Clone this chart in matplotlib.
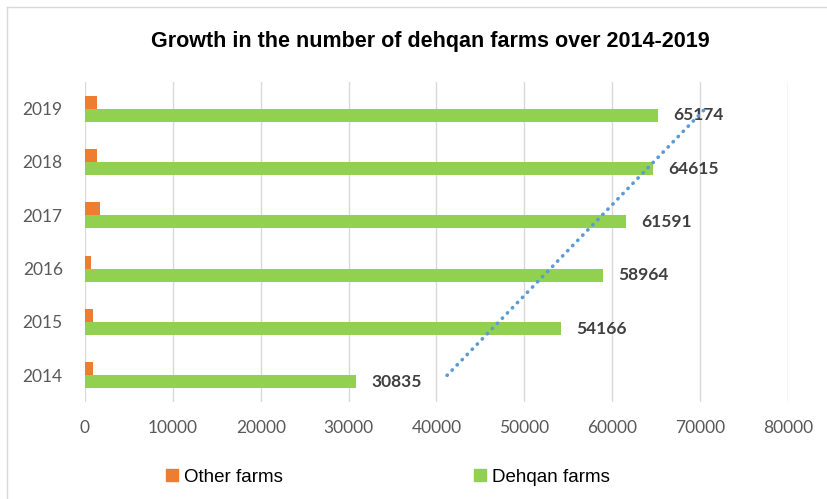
import numpy as np
import matplotlib
matplotlib.use("Agg")
import matplotlib.pyplot as plt
from matplotlib.patches import Patch
from matplotlib.lines import Line2D

years = ["2014", "2015", "2016", "2017", "2018", "2019"]
other_farms = [900, 900, 700, 1700, 1400, 1400]
dehqan_farms = [30835, 54166, 58964, 61591, 64615, 65174]
x_ticks = [0, 10000, 20000, 30000, 40000, 50000, 60000, 70000, 80000]

orange = "#ED7D31"
green = "#92D050"
W, H = 828, 499

fig = plt.figure(figsize=(W / 100, H / 100), dpi=100)
ax = fig.add_axes([85 / W, 1 - 402 / H, (788 - 85) / W, (402 - 82) / H])

y = np.arange(len(years))
bh = 0.245
ax.barh(y + bh / 2, other_farms, height=bh, color=orange, zorder=3)
ax.barh(y - bh / 2, dehqan_farms, height=bh, color=green, zorder=3)

# data labels on the green bars
for yi, v in zip(y, dehqan_farms):
    ax.annotate(str(v), (v, yi - bh / 2), xytext=(11, 0), textcoords="offset points",
                va="center", ha="left", fontsize=12.5, fontweight="bold",
                family="Lato", color="#404040", zorder=4)

# linear trendline of dehqan farms
k, b = np.polyfit(y, dehqan_farms, 1)
ax.plot(k * y + b, y, color="#5B9BD5", lw=2.6, linestyle=(0, (0.1, 1.9)),
        dash_capstyle="round", zorder=5)

ax.set_xlim(0, 80000)
ax.set_ylim(-0.5, len(years) - 0.5)
ax.set_xticks(x_ticks)
ax.set_xticklabels([str(t) for t in x_ticks])
ax.set_yticks(y)
ax.set_yticklabels(years)
ax.tick_params(length=0, colors="#595959", labelsize=12.5)
ax.tick_params(axis="x", pad=13)
ax.tick_params(axis="y", pad=16)
for lab in ax.get_xticklabels() + ax.get_yticklabels():
    lab.set_family("Lato")
ax.grid(axis="x", color="#D9D9D9", lw=1, zorder=0)
for s in ax.spines.values():
    s.set_visible(False)

fig.text(430 / W, 1 - 42 / H, "Growth in the number of dehqan farms over 2014-2019",
         ha="center", va="center", fontsize=15.5, fontweight="bold",
         family="Liberation Sans", color="black")

handles = [Patch(color=orange, label="Other farms"), Patch(color=green, label="Dehqan farms")]
fig.legend(handles=handles, loc="center left", bbox_to_anchor=(166 / W, 1 - 477 / H),
           ncol=2, frameon=False, prop={"family": "Liberation Sans", "size": 13.5},
           handlelength=0.65, handleheight=0.65, handletextpad=0.3, columnspacing=10.2,
           borderpad=0, borderaxespad=0)

# chart area border (left and top edges visible)
fig.add_artist(Line2D([7 / W, 7 / W], [0, 1 - 7 / H], color="#D9D9D9", lw=1))
fig.add_artist(Line2D([7 / W, 1], [1 - 7 / H, 1 - 7 / H], color="#D9D9D9", lw=1))

fig.savefig("out.png", dpi=100)
